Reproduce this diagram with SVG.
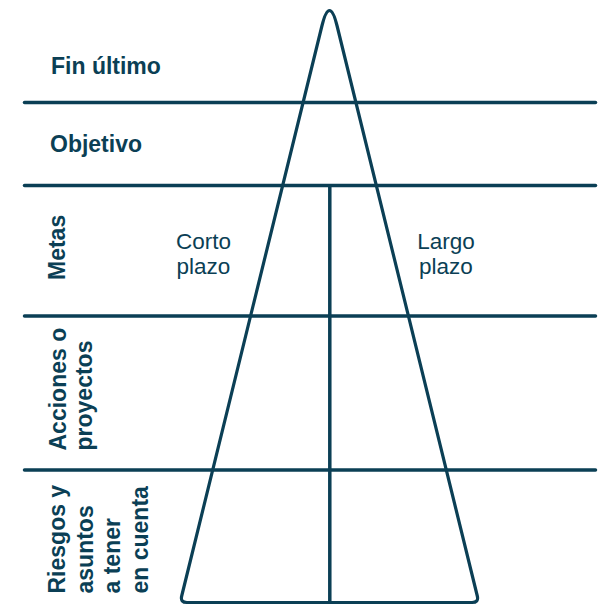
<svg xmlns="http://www.w3.org/2000/svg" width="611" height="605" viewBox="0 0 611 605">
<style>
.ln{stroke:#0b3f55;stroke-width:3.5;stroke-linecap:round;fill:none}
.tri{stroke:#0b3f55;stroke-width:3.2;fill:none;stroke-linejoin:round}
.b{font-family:"Liberation Sans",Arial,sans-serif;font-weight:bold;font-size:23px;fill:#0b3f55}
.r{font-family:"Liberation Sans",Arial,sans-serif;font-size:22.5px;fill:#0b3f55;text-anchor:middle}
</style>
<rect width="611" height="605" fill="#ffffff"/>
<g id="connectors">
<line class="ln" x1="24.5" y1="102.5" x2="595.5" y2="102.5"/>
<line class="ln" x1="24.5" y1="185.5" x2="595.5" y2="185.5"/>
<line class="ln" x1="24.5" y1="316" x2="595.5" y2="316"/>
<line class="ln" x1="24.5" y1="470" x2="595.5" y2="470"/>
<line class="ln" x1="329.8" y1="185" x2="329.8" y2="602.5" style="stroke-linecap:butt"/>
</g>
<g id="triangle">
<path class="tri" d="M321.9,26 Q329.5,-5 337.1,26 L477.3,596 Q478.9,602.5 472,602.5 L187,602.5 Q180.1,602.5 181.7,596 Z"/>
</g>
<g id="fin-ultimo"><text class="b" x="51" y="74">Fin último</text></g>
<g id="objetivo"><text class="b" x="50" y="152">Objetivo</text></g>
<g id="metas"><text class="b" transform="translate(65,280) rotate(-90)">Metas</text></g>
<g id="acciones"><text class="b" transform="translate(66,450.5) rotate(-90)">Acciones o</text><text class="b" transform="translate(92,450.5) rotate(-90)">proyectos</text></g>
<g id="riesgos">
<text class="b" transform="translate(65,593.5) rotate(-90)">Riesgos y</text>
<text class="b" transform="translate(93,593.5) rotate(-90)">asuntos</text>
<text class="b" transform="translate(120,593.5) rotate(-90)">a tener</text>
<text class="b" transform="translate(148,593.5) rotate(-90)">en cuenta</text>
</g>
<g id="corto-plazo"><text class="r" x="203.5" y="248.5">Corto</text><text class="r" x="203.5" y="274">plazo</text></g>
<g id="largo-plazo"><text class="r" x="446" y="248.5">Largo</text><text class="r" x="446" y="274">plazo</text></g>
</svg>
